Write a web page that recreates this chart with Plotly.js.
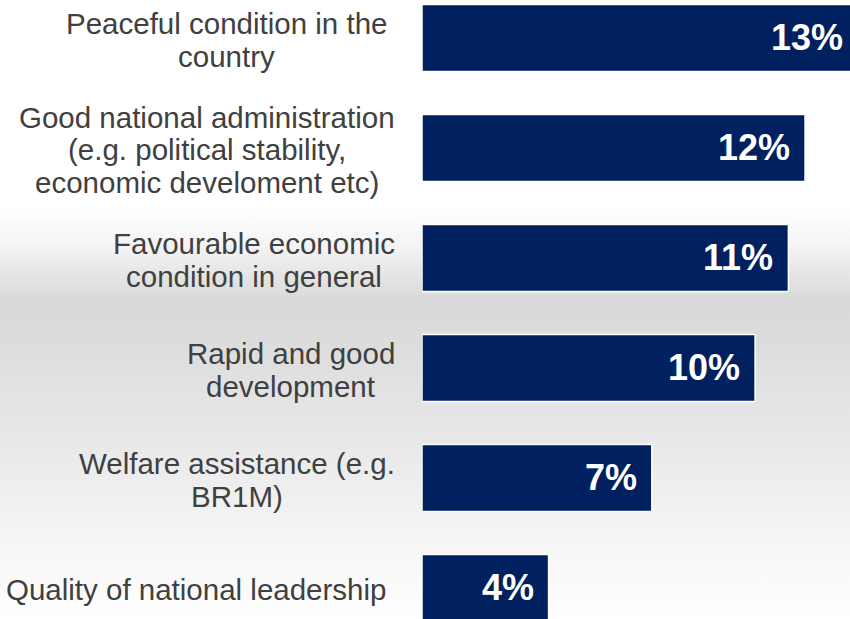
<!DOCTYPE html>
<html>
<head>
<meta charset="utf-8">
<script src="https://cdn.plot.ly/plotly-3.0.1.min.js"></script>
<style>
  html, body { margin: 0; padding: 0; overflow: hidden; width: 850px; height: 619px; }
  body {
    background: linear-gradient(to bottom, #ffffff 0px, #ffffff 210px, #f2f2f2 250px, #d9d9d9 300px, #dcdcdc 340px, #e7e7e7 430px, #f4f4f4 530px, #ffffff 619px);
  }
  #chart { width: 880px; height: 619px; }
</style>
</head>
<body>
<div id="chart"></div>
<script>
// ---- data ----
const categories = [
  "Peaceful condition in the<br>country",
  "Good national administration<br>(e.g. political stability,<br>economic develoment etc)",
  "Favourable economic<br>condition in general",
  "Rapid and good<br>development",
  "Welfare assistance (e.g.<br>BR1M)",
  "Quality of national leadership"
];
const values = [13.1, 11.5, 11.0, 10.0, 6.9, 3.8];
const valueLabels = ["13%", "12%", "11%", "10%", "7%", "4%"];

// ---- layout constants ----
const LEFT = 422;
const labelRightEdges = [387, 395, 395, 395, 395, 386];
const LABEL_FONT = 29.5;
const LINE = 32.5;
const FAMILY = '"Liberation Sans", Arial, sans-serif';

const canvas = document.createElement('canvas');
const ctx = canvas.getContext('2d');
ctx.font = LABEL_FONT + 'px "Liberation Sans"';

const annotations = [];
categories.forEach((lab, i) => {
  const lines = lab.split('<br>');
  const w = Math.max(...lines.map(l => ctx.measureText(l).width));
  const cx = labelRightEdges[i] - w / 2;
  lines.forEach((ln, j) => {
    annotations.push({
      xref: 'paper', yref: 'y', x: 0, y: i,
      xshift: cx - LEFT,
      yshift: -(j - (lines.length - 1) / 2) * LINE - 2,
      text: ln, showarrow: false, xanchor: 'center', yanchor: 'middle',
      borderpad: 0,
      font: { family: FAMILY, size: LABEL_FONT, color: '#404040' }
    });
  });
});
values.forEach((v, i) => {
  annotations.push({
    xref: 'x', yref: 'y', x: v, y: i, xshift: -14,
    text: valueLabels[i], showarrow: false, xanchor: 'right', yanchor: 'middle',
    borderpad: 0,
    font: { family: FAMILY, size: 36, color: '#ffffff', weight: 700 }
  });
});

const trace = {
  type: 'bar', orientation: 'h',
  x: values, y: categories,
  width: 0.61,
  marker: { color: '#002060', line: { color: '#ffffff', width: 1.5 } },
  hoverinfo: 'none'
};

const layout = {
  width: 880, height: 619,
  margin: { l: LEFT, r: 20, t: 0, b: 0, pad: 0 },
  paper_bgcolor: 'rgba(0,0,0,0)', plot_bgcolor: 'rgba(0,0,0,0)',
  showlegend: false,
  xaxis: { range: [0, 13.15], visible: false, showgrid: false, zeroline: false, fixedrange: true },
  yaxis: { type: 'category', range: [5.282, -0.345], showticklabels: false, showgrid: false, zeroline: false, ticks: '', fixedrange: true },
  annotations: annotations
};

Plotly.newPlot('chart', [trace], layout, { displayModeBar: false, staticPlot: true });
</script>
</body>
</html>
